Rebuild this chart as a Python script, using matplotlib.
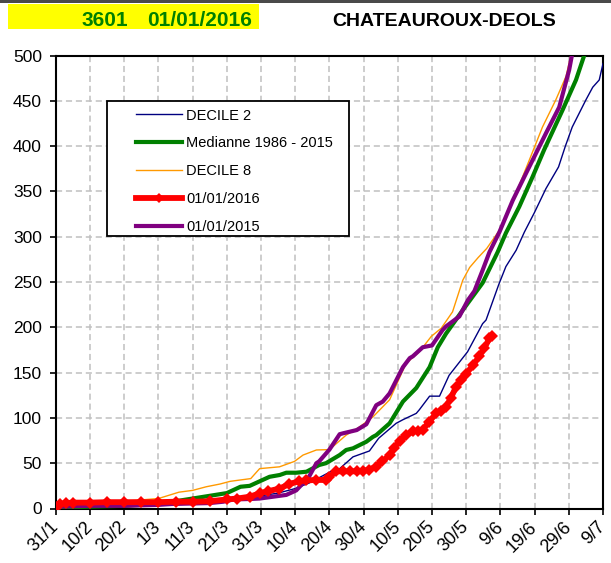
import matplotlib
matplotlib.use("Agg")
import matplotlib.pyplot as plt
from matplotlib.patches import Rectangle

plt.rcParams['font.family'] = ['Liberation Sans', 'DejaVu Sans']

# x values are days counted from 31/1
tick_days = [0, 10, 20, 30, 40, 50, 60, 70, 80, 90, 100, 110, 120, 130, 140, 150, 160]
tick_labels = ['31/1', '10/2', '20/2', '1/3', '11/3', '21/3', '31/3', '10/4', '20/4',
               '30/4', '10/5', '20/5', '30/5', '9/6', '19/6', '29/6', '9/7']

d2_days = [0, 20, 40, 50, 60, 65, 70, 74, 77, 81, 83, 86.9, 91.7, 94.4, 99.5, 101.5, 105.4,
           106.3, 109.3, 112.2, 115, 120.4, 124.8, 125.8, 129.5, 131.6, 134.6, 137, 140,
           143.3, 147, 149, 151, 155, 157, 158.9, 160]
d2_vals = [0, 2, 5, 8, 14, 17, 22, 28, 34, 42, 44, 57, 63.5, 77.5, 94, 98, 105,
           109, 124, 124, 147, 173, 204, 208, 247, 267, 285, 305, 327,
           353, 377, 400, 421, 451, 465, 473, 491]

med_days = [0, 10, 20, 30, 40, 45, 50, 54, 56.7, 59.6, 62.5, 65.5, 67.4, 70.3, 73.3, 77, 79,
            83, 84.9, 86.9, 90.8, 92.7, 93.7, 97.6, 101.5, 105.4, 109.3, 111.7, 114.1, 119,
            124.8, 129.2, 131.6, 135.5, 139.4, 142.8, 148.2, 152.1, 154.5]
med_vals = [1, 2, 3, 5, 11, 14, 17, 24, 25, 30, 35, 37, 39.5, 39.5, 40.6, 48, 50,
            59, 64.6, 66.4, 73.7, 79, 81, 94, 118, 133, 156, 178, 193, 219,
            249, 283, 304, 333, 366, 396, 440, 473, 500]

d8_days = [0, 10, 20, 30, 36, 40, 44, 48, 51, 55, 57, 59.6, 65.4, 69.8, 72.3, 76.2, 80,
           84.9, 88.8, 92.7, 97.6, 102.4, 106.3, 109.8, 112.7, 116, 119, 121, 123.5, 126,
           129.7, 133.6, 138.5, 142.3, 146.2, 149.2, 150.6]
d8_vals = [2, 5, 8, 11, 18, 20, 24, 27, 30, 32, 33, 44, 46, 52, 59, 64.6, 65,
           81, 90, 101, 120, 160, 173, 190, 199, 217, 252, 266, 277, 287,
           307, 339, 385, 421, 451, 477, 500]

y16_days = [0, 1.2, 3, 5, 10, 15, 20, 25, 30, 35, 40, 45, 50, 53, 56.7, 59.6, 62, 65.4, 68.3,
            71, 73.3, 76, 79, 80, 82, 84, 86, 88, 89.8, 91.5, 93.7, 95.5, 97.6, 99, 100.5,
            102.5, 104.4, 106, 107.3, 109, 111.2, 112.5, 114.1, 115.5, 117, 118.5, 120,
            122, 123.8, 125.3, 126.8, 127.6]
y16_vals = [2, 5, 6, 6.5, 6.5, 7, 7, 7, 7, 7.5, 7.5, 8, 10, 11, 13, 16.8, 19, 22, 27,
            30, 31, 31.5, 31.5, 35, 41, 41, 41, 41, 41, 43, 46, 52, 59, 67, 75,
            81, 85, 86, 87, 95, 105, 108, 112, 122, 134, 142, 149,
            158, 168, 177, 188, 190]

y15_days = [0, 10, 20, 30, 34, 45, 49, 52, 56.7, 59.6, 67.4, 70.3, 72.3, 73.3, 76.2, 77, 80,
            83, 84, 88, 90.8, 93.7, 95.6, 97.6, 101.5, 103.5, 104.4, 107.3, 110, 113.1,
            114.1, 118, 120.5, 122.4, 124.8, 126.8, 129.7, 133.6, 137.5, 143.3, 147.2,
            150.1, 150.9]
y15_vals = [2, 3, 3, 4, 5, 6, 7.5, 10, 10.5, 11, 15, 20, 28, 30, 50, 52, 65,
            82, 83, 86.6, 93, 114, 118, 127, 156, 166, 168, 178, 180, 197,
            201, 212, 230, 240, 263, 283, 305, 340, 370, 414, 443,
            484, 500]

W, H = 611, 563
fig = plt.figure(figsize=(W / 100, H / 100), dpi=100)
ax = fig.add_axes([55.8 / W, 1 - 508.5 / H, 547.2 / W, 453 / H])

ax.plot(d2_days, d2_vals, color='#000080', lw=1.0, label='DECILE 2', zorder=3)
ax.plot(med_days, med_vals, color='#008000', lw=3.0, label='Medianne 1986 - 2015', zorder=4)
ax.plot(d8_days, d8_vals, color='#FF9900', lw=1.0, label='DECILE 8', zorder=3)
ax.plot(y16_days, y16_vals, color='#FF0000', lw=4.2, marker='D', markersize=6,
        markeredgewidth=0, label='01/01/2016', zorder=5)
ax.plot(y15_days, y15_vals, color='#800080', lw=3.0, label='01/01/2015', zorder=4)

ax.set_xlim(0, 160)
ax.set_ylim(0, 500)
ax.set_xticks(tick_days)
ax.set_xticklabels(tick_labels, rotation=45, ha='right', va='center',
                   rotation_mode='anchor', fontsize=13)
ax.set_yticks(range(0, 501, 50))
ax.tick_params(axis='y', labelsize=12.5, length=4, width=1.2, pad=6, direction='out')
ax.tick_params(axis='x', length=4.5, width=1.2, pad=7, direction='out')
ax.grid(True, color='#c0c0c0', lw=1.1, ls=(0, (4, 2.5)), zorder=0)
for s in ax.spines.values():
    s.set_linewidth(1.5)
    s.set_color('black')

# legend with manual frame
frame = Rectangle((107 / W, 1 - 236 / H), 242 / W, 135 / H, transform=fig.transFigure,
                  facecolor='white', edgecolor='black', lw=1.3, zorder=6, clip_on=False)
ax.add_patch(frame)
leg = ax.legend(loc='upper left', bbox_to_anchor=(136 / W, 1 - 108.5 / H),
                bbox_transform=fig.transFigure, frameon=False, fontsize=10.5,
                handlelength=3.15, handletextpad=0.3, labelspacing=0.95, borderpad=0,
                borderaxespad=0, markerscale=0.8, numpoints=1)
leg.set_zorder(7)

# top header
fig.patches.append(Rectangle((0, 1 - 2.7 / H), 1, 2.7 / H, transform=fig.transFigure,
                             facecolor='#4a4a4a', edgecolor='none'))
fig.patches.append(Rectangle((8 / W, 1 - 29.3 / H), 251 / W, 25.3 / H, transform=fig.transFigure,
                             facecolor='#FFFF00', edgecolor='none'))
fig.text(81 / W, 1 - 25.7 / H, '3601', color='#008000', fontsize=15, fontweight='bold',
         ha='left', va='baseline')
fig.text(252 / W, 1 - 25.7 / H, '01/01/2016', color='#008000', fontsize=15, fontweight='bold',
         ha='right', va='baseline')
fig.text(444 / W, 1 - 26 / H, 'CHATEAUROUX-DEOLS', color='black', fontsize=14, fontweight='bold',
         ha='center', va='baseline')

fig.savefig('out.png', dpi=100)
